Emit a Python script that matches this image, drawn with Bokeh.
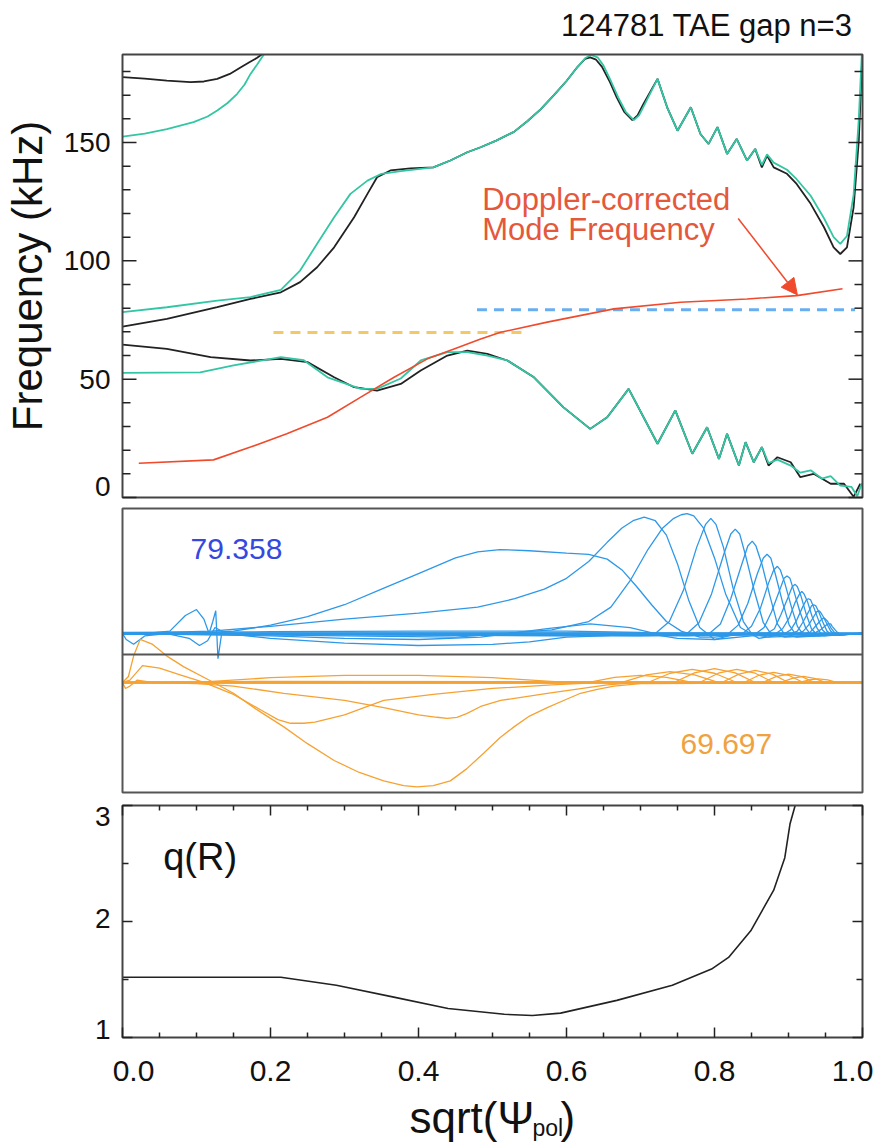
from bokeh.plotting import figure
from bokeh.layouts import column
from bokeh.models import Range1d, Label, Arrow, NormalHead
from bokeh.embed import file_html
from bokeh.resources import INLINE

FONT = "Liberation Sans"

# ---------------- Frequency continuum (kHz) vs sqrt(psi_pol) ----------------
black_hi_s = [0.0, 0.03, 0.06, 0.092, 0.11, 0.128, 0.145, 0.16, 0.172, 0.182, 0.188]
black_hi_f = [177.6, 177.0, 176.2, 175.5, 175.8, 176.9, 179.0, 181.8, 184.0, 185.8, 187.2]

teal_hi_s = [0.0, 0.03, 0.06, 0.096, 0.115, 0.128, 0.142, 0.155, 0.165, 0.173, 0.182, 0.191]
teal_hi_f = [152.5, 153.8, 155.7, 158.6, 161.0, 163.5, 166.7, 170.6, 174.5, 179.0, 183.0, 187.2]

black_up_s = [0.0, 0.06, 0.128, 0.173, 0.214, 0.24, 0.263, 0.286, 0.313, 0.331, 0.344, 0.362,
              0.389, 0.42, 0.443, 0.466, 0.484, 0.505, 0.529, 0.547, 0.565, 0.583, 0.600, 0.615,
              0.625, 0.632, 0.640, 0.648, 0.658, 0.668, 0.678, 0.689, 0.696, 0.704, 0.723, 0.736,
              0.75, 0.768, 0.781, 0.792, 0.804, 0.817, 0.83, 0.844, 0.855, 0.864, 0.871, 0.88,
              0.898, 0.911, 0.93, 0.948, 0.961, 0.97, 0.979, 0.988, 0.995, 0.999]
black_up_f = [72.2, 75.5, 80.4, 83.9, 86.7, 91.0, 97.3, 105.7, 118.4, 128.3, 135.3, 138.2,
              139.1, 139.5, 142.4, 145.9, 148.0, 150.8, 154.5, 159.0, 164.0, 170.0, 176.0, 182.0,
              185.3, 186.0, 185.0, 182.0, 176.0, 169.0, 163.0, 159.5, 161.5, 166.3, 176.9, 164.9,
              155.0, 164.9, 153.6, 149.4, 156.5, 145.2, 151.5, 142.4, 147.3, 139.5, 144.5, 139.5,
              136.8, 132.5, 124.1, 114.2, 105.7, 102.9, 105.7, 122.6, 150.8, 181.8]

teal_up_s = [0.0, 0.06, 0.128, 0.173, 0.214, 0.24, 0.263, 0.286, 0.308, 0.331, 0.35, 0.376,
             0.42, 0.443, 0.466, 0.484, 0.505, 0.529, 0.547, 0.565, 0.583, 0.600, 0.615, 0.625,
             0.633, 0.642, 0.650, 0.660, 0.670, 0.680, 0.691, 0.698, 0.706, 0.723, 0.736, 0.75,
             0.768, 0.781, 0.792, 0.804, 0.817, 0.83, 0.844, 0.855, 0.864, 0.871, 0.88, 0.898,
             0.911, 0.93, 0.948, 0.961, 0.97, 0.979, 0.988, 0.995, 0.999]
teal_up_f = [78.3, 80.4, 83.2, 84.7, 87.7, 95.9, 107.2, 118.4, 128.3, 133.9, 136.8, 137.9,
             139.5, 142.4, 145.9, 148.0, 150.8, 154.5, 159.0, 164.0, 170.0, 176.0, 182.0, 185.6,
             187.0, 186.0, 182.5, 176.0, 169.0, 163.0, 159.5, 161.5, 166.3, 176.9, 164.9, 155.0,
             164.9, 153.6, 149.4, 156.5, 145.2, 151.5, 142.4, 147.3, 140.5, 145.0, 141.5, 138.5,
             134.5, 127.5, 118.0, 110.0, 107.2, 110.5, 128.0, 160.0, 187.0]

black_lo_s = [0.0, 0.06, 0.119, 0.173, 0.214, 0.25, 0.286, 0.313, 0.344, 0.376, 0.403, 0.439,
              0.466, 0.493, 0.52, 0.556, 0.596, 0.632, 0.655, 0.684, 0.723, 0.747, 0.77, 0.79,
              0.806, 0.817, 0.833, 0.842, 0.853, 0.864, 0.873, 0.885, 0.903, 0.916, 0.934, 0.957,
              0.975, 0.988, 0.997]
black_lo_f = [64.6, 62.8, 59.3, 57.9, 58.6, 57.2, 50.8, 46.6, 45.2, 48.0, 53.7, 60.0,
              62.1, 60.7, 57.9, 50.8, 38.1, 29.0, 33.9, 45.9, 22.7, 36.8, 18.5, 29.7,
              16.3, 26.9, 13.5, 23.4, 14.9, 21.3, 13.5, 17.0, 14.9, 8.6, 10.0, 5.8,
              5.8, 0.3, 5.8]

teal_lo_s = [0.0, 0.105, 0.15, 0.214, 0.245, 0.277, 0.322, 0.344, 0.376, 0.403, 0.439, 0.466,
             0.493, 0.52, 0.556, 0.596, 0.632, 0.655, 0.684, 0.723, 0.747, 0.77, 0.79, 0.806,
             0.817, 0.833, 0.842, 0.853, 0.864, 0.873, 0.885, 0.903, 0.916, 0.93, 0.945, 0.957,
             0.97, 0.985, 0.993, 0.999]
teal_lo_f = [52.7, 52.9, 55.8, 59.3, 58.0, 50.8, 45.9, 45.9, 50.3, 57.9, 61.4, 61.4,
             60.0, 57.9, 50.8, 38.1, 29.0, 33.9, 45.9, 22.7, 36.8, 18.5, 29.7, 16.3,
             26.9, 13.5, 23.4, 14.9, 21.3, 14.5, 16.0, 13.5, 10.5, 11.5, 8.0, 9.0,
             5.0, 4.5, 0.5, 6.0]

doppler_s = [0.022, 0.123, 0.173, 0.222, 0.277, 0.322, 0.367, 0.412, 0.448, 0.484, 0.511,
             0.574, 0.664, 0.754, 0.844, 0.911, 0.973]
doppler_f = [14.5, 15.9, 21.3, 26.9, 33.9, 42.4, 50.8, 58.6, 62.8, 67.0, 69.8,
             74.1, 79.7, 82.5, 83.9, 85.3, 88.2]

# eigenmode frequencies (kHz) and their radial extent
tae_hi_freq = 79.358
tae_hi_extent = [0.479, 0.99]
tae_lo_freq = 69.697
tae_lo_extent = [0.204, 0.545]

# ---------------- Mode structure: poloidal harmonics ----------------
blue_modes = [
    ([0.0, 0.10, 0.15, 0.20, 0.25, 0.30, 0.35, 0.40, 0.45, 0.48, 0.51, 0.55, 0.60, 0.63, 0.655,
      0.675, 0.695, 0.715, 0.735, 0.755, 0.78, 0.80, 0.85, 1.0],
     [0.0, 0.0, 0.02, 0.07, 0.14, 0.24, 0.37, 0.50, 0.63, 0.68, 0.70, 0.69, 0.67, 0.66, 0.62,
      0.53, 0.39, 0.24, 0.10, 0.02, -0.03, -0.03, 0.0, 0.0]),
    ([0.0, 0.12, 0.2, 0.3, 0.4, 0.48, 0.53, 0.57, 0.60, 0.63, 0.655, 0.675, 0.69, 0.705, 0.72,
      0.735, 0.75, 0.765, 0.78, 0.80, 0.83, 1.0],
     [0.0, 0.02, 0.06, 0.12, 0.17, 0.22, 0.29, 0.37, 0.46, 0.60, 0.76, 0.88, 0.94, 0.97, 0.94,
      0.82, 0.58, 0.28, 0.05, -0.05, 0.0, 0.0]),
    ([0.0, 0.45, 0.58, 0.63, 0.66, 0.686, 0.71, 0.73, 0.745, 0.755, 0.763, 0.772, 0.785, 0.80,
      0.815, 0.835, 0.86, 0.9, 1.0],
     [0.0, -0.03, 0.03, 0.10, 0.22, 0.44, 0.70, 0.88, 0.96, 0.99, 1.0, 0.98, 0.88, 0.63,
      0.33, 0.05, -0.04, 0.0, 0.0]),
    ([0.0, 0.6, 0.720, 0.739, 0.758, 0.776, 0.788, 0.795, 0.802, 0.812, 0.825, 0.839, 0.850, 0.872, 1.0],
     [0.0, 0.0, 0.0, 0.10, 0.36, 0.72, 0.91, 0.96, 0.91, 0.72, 0.38, 0.10, 0.0, -0.03, 0.0]),
    ([0.0, 0.6, 0.763, 0.779, 0.796, 0.812, 0.822, 0.828, 0.834, 0.842, 0.854, 0.866, 0.876, 0.895, 1.0],
     [0.0, -0.02, 0.0, 0.09, 0.33, 0.65, 0.83, 0.87, 0.83, 0.65, 0.35, 0.09, 0.0, -0.03, 0.0]),
    ([0.0, 0.7, 0.793, 0.808, 0.822, 0.837, 0.845, 0.851, 0.856, 0.864, 0.875, 0.885, 0.894, 0.911, 1.0],
     [0.0, 0.0, 0.0, 0.08, 0.29, 0.58, 0.73, 0.77, 0.73, 0.58, 0.31, 0.08, 0.0, -0.03, 0.0]),
    ([0.0, 0.7, 0.819, 0.832, 0.845, 0.858, 0.866, 0.871, 0.876, 0.882, 0.892, 0.901, 0.909, 0.924, 1.0],
     [0.0, -0.02, 0.0, 0.07, 0.25, 0.50, 0.63, 0.66, 0.63, 0.50, 0.26, 0.07, 0.0, -0.02, 0.0]),
    ([0.0, 0.75, 0.838, 0.850, 0.862, 0.873, 0.880, 0.885, 0.889, 0.895, 0.904, 0.912, 0.919, 0.933, 1.0],
     [0.0, 0.0, 0.0, 0.06, 0.21, 0.42, 0.53, 0.56, 0.53, 0.42, 0.22, 0.06, 0.0, -0.02, 0.0]),
    ([0.0, 0.75, 0.856, 0.867, 0.877, 0.888, 0.894, 0.898, 0.902, 0.907, 0.915, 0.923, 0.929, 0.941, 1.0],
     [0.0, -0.02, 0.0, 0.05, 0.18, 0.36, 0.46, 0.48, 0.46, 0.36, 0.19, 0.05, 0.0, -0.02, 0.0]),
    ([0.0, 0.8, 0.871, 0.881, 0.890, 0.900, 0.905, 0.909, 0.912, 0.917, 0.924, 0.931, 0.937, 0.948, 1.0],
     [0.0, 0.0, 0.0, 0.04, 0.16, 0.31, 0.39, 0.41, 0.39, 0.31, 0.16, 0.04, 0.0, -0.02, 0.0]),
    ([0.0, 0.8, 0.883, 0.892, 0.901, 0.909, 0.915, 0.918, 0.921, 0.926, 0.932, 0.939, 0.944, 0.954, 1.0],
     [0.0, -0.015, 0.0, 0.04, 0.13, 0.26, 0.33, 0.35, 0.33, 0.26, 0.14, 0.04, 0.0, -0.015, 0.0]),
    ([0.0, 0.85, 0.895, 0.903, 0.911, 0.919, 0.924, 0.927, 0.930, 0.934, 0.940, 0.946, 0.951, 0.961, 1.0],
     [0.0, 0.0, 0.0, 0.03, 0.11, 0.22, 0.28, 0.29, 0.28, 0.22, 0.12, 0.03, 0.0, -0.015, 0.0]),
    ([0.0, 0.85, 0.904, 0.912, 0.919, 0.927, 0.931, 0.934, 0.937, 0.941, 0.946, 0.952, 0.956, 0.965, 1.0],
     [0.0, -0.01, 0.0, 0.02, 0.09, 0.18, 0.23, 0.24, 0.23, 0.18, 0.10, 0.02, 0.0, -0.01, 0.0]),
    ([0.0, 0.88, 0.913, 0.920, 0.927, 0.934, 0.938, 0.941, 0.943, 0.947, 0.952, 0.957, 0.961, 0.969, 1.0],
     [0.0, 0.0, 0.0, 0.02, 0.07, 0.14, 0.18, 0.19, 0.18, 0.14, 0.08, 0.02, 0.0, -0.01, 0.0]),
    ([0.0, 0.88, 0.922, 0.929, 0.935, 0.942, 0.945, 0.948, 0.950, 0.953, 0.957, 0.962, 0.965, 0.972, 1.0],
     [0.0, -0.01, 0.0, 0.01, 0.05, 0.10, 0.12, 0.13, 0.12, 0.10, 0.05, 0.01, 0.0, -0.01, 0.0]),
    ([0.0, 0.9, 0.931, 0.937, 0.943, 0.949, 0.953, 0.955, 0.957, 0.959, 0.963, 0.966, 0.969, 0.975, 1.0],
     [0.0, 0.0, 0.0, 0.01, 0.03, 0.06, 0.08, 0.08, 0.08, 0.06, 0.03, 0.01, 0.0, 0.0, 0.0]),
    # core wiggles and weak side-band harmonics
    ([0.0, 0.03, 0.064, 0.085, 0.10, 0.11, 0.117, 0.122, 0.126, 0.129, 0.134, 0.16, 1.0],
     [0.0, 0.0, 0.02, 0.15, 0.20, 0.12, 0.0, 0.10, 0.19, -0.21, 0.0, 0.0, 0.0]),
    ([0.0, 0.005, 0.015, 0.03, 0.06, 0.09, 0.104, 0.115, 0.125, 0.14, 0.2, 0.3, 0.4, 0.5, 0.55,
      0.6, 0.65, 0.7, 1.0],
     [0.0, -0.05, -0.09, -0.02, 0.0, -0.04, -0.10, -0.06, 0.05, 0.0, -0.04, -0.08, -0.10, -0.09,
      -0.07, -0.03, -0.02, 0.0, 0.0]),
    ([0.0, 0.2, 0.3, 0.4, 0.484, 0.574, 0.632, 0.686, 0.72, 0.76, 1.0],
     [0.0, -0.02, -0.04, -0.05, -0.03, 0.04, 0.08, 0.05, 0.0, -0.02, 0.0]),
    ([0.0, 0.2, 0.4, 0.6, 0.7, 0.75, 0.8, 0.85, 1.0],
     [0.01, 0.015, 0.02, 0.02, 0.01, -0.04, -0.05, -0.02, 0.0]),
]

orange_modes = [
    ([0.0, 0.008, 0.015, 0.024, 0.04, 0.06, 0.083, 0.12, 0.15, 0.18, 0.218, 0.25, 0.286, 0.32,
      0.353, 0.38, 0.398, 0.42, 0.443, 0.465, 0.488, 0.51, 0.529, 0.55, 0.574, 0.6, 0.619, 0.64,
      0.664, 0.7, 1.0],
     [0.0, 0.05, 0.22, 0.36, 0.32, 0.22, 0.13, 0.01, -0.09, -0.22, -0.37, -0.51, -0.65, -0.75,
      -0.82, -0.86, -0.87, -0.86, -0.82, -0.72, -0.59, -0.46, -0.37, -0.28, -0.21, -0.14, -0.09,
      -0.06, -0.03, -0.01, 0.0]),
    ([0.0, 0.01, 0.027, 0.05, 0.08, 0.11, 0.15, 0.19, 0.21, 0.227, 0.245, 0.26, 0.3, 0.353, 0.42,
      0.5, 0.58, 0.65, 1.0],
     [0.0, 0.02, 0.14, 0.12, 0.06, 0.0, -0.10, -0.24, -0.31, -0.34, -0.34, -0.33, -0.27, -0.15,
      -0.10, -0.05, -0.02, 0.0, 0.0]),
    ([0.0, 0.05, 0.1, 0.15, 0.218, 0.3, 0.353, 0.4, 0.425, 0.439, 0.452, 0.465, 0.484, 0.511,
      0.574, 0.655, 0.7, 1.0],
     [0.0, 0.0, -0.01, -0.03, -0.09, -0.15, -0.21, -0.27, -0.29, -0.30, -0.29, -0.26, -0.20,
      -0.15, -0.09, -0.02, 0.0, 0.0]),
    ([0.0, 0.1, 0.2, 0.3, 0.4, 0.5, 0.6, 1.0],
     [0.0, 0.0, 0.04, 0.06, 0.06, 0.04, 0.0, 0.0]),
    ([0.0, 0.004, 0.01, 0.02, 0.04, 0.2, 1.0],
     [0.0, -0.05, -0.03, 0.02, 0.0, 0.01, 0.0]),
    ([0.0, 0.63, 0.665, 0.70, 0.735, 0.77, 1.0], [0.0, 0.0, 0.042, 0.06, 0.042, 0.0, 0.0]),
    ([0.0, 0.675, 0.708, 0.74, 0.773, 0.805, 1.0], [0.0, 0.0, 0.063, 0.09, 0.063, 0.0, 0.0]),
    ([0.0, 0.71, 0.74, 0.77, 0.80, 0.83, 1.0], [0.0, 0.0, 0.077, 0.11, 0.077, 0.0, 0.0]),
    ([0.0, 0.745, 0.773, 0.80, 0.828, 0.855, 1.0], [0.0, 0.0, 0.08, 0.115, 0.08, 0.0, 0.0]),
    ([0.0, 0.78, 0.805, 0.83, 0.855, 0.88, 1.0], [0.0, 0.0, 0.077, 0.11, 0.077, 0.0, 0.0]),
    ([0.0, 0.81, 0.833, 0.855, 0.878, 0.90, 1.0], [0.0, 0.0, 0.07, 0.10, 0.07, 0.0, 0.0]),
    ([0.0, 0.84, 0.86, 0.88, 0.90, 0.92, 1.0], [0.0, 0.0, 0.06, 0.085, 0.06, 0.0, 0.0]),
    ([0.0, 0.865, 0.883, 0.90, 0.918, 0.935, 1.0], [0.0, 0.0, 0.049, 0.07, 0.049, 0.0, 0.0]),
    ([0.0, 0.89, 0.905, 0.92, 0.935, 0.95, 1.0], [0.0, 0.0, 0.035, 0.05, 0.035, 0.0, 0.0]),
    ([0.0, 0.915, 0.928, 0.94, 0.953, 0.965, 1.0], [0.0, 0.0, 0.021, 0.03, 0.021, 0.0, 0.0]),
]

# ---------------- Safety factor profile ----------------
q_s = [0.0, 0.1, 0.214, 0.289, 0.365, 0.44, 0.516, 0.554, 0.592, 0.668, 0.743, 0.796,
       0.819, 0.849, 0.88, 0.895, 0.902, 0.909]
q_val = [1.52, 1.52, 1.52, 1.45, 1.35, 1.25, 1.20, 1.19, 1.21, 1.32, 1.45, 1.59,
         1.69, 1.92, 2.27, 2.55, 2.84, 3.0]

freq_ticks = [0, 50, 100, 150]
freq_minor = [10, 20, 30, 40, 60, 70, 80, 90, 110, 120, 130, 140, 160, 170, 180]
q_ticks = [1, 2, 3]
q_minor = [1.5, 2.5]
s_ticks = [0.0, 0.2, 0.4, 0.6, 0.8, 1.0]
s_minor = [0.05, 0.1, 0.15, 0.25, 0.3, 0.35, 0.45, 0.5, 0.55, 0.65, 0.7, 0.75, 0.85, 0.9, 0.95]

BLACK = "#222222"
TEAL = "#33c6a4"
RED = "#f04a2c"
RED_TXT = "#e4583c"
BLUE = "#2e98e8"
ORANGE = "#f6a232"
TXT = "#111111"
BLUE_OFFSET = 0.0
ORANGE_OFFSET = -0.408
DIVIDER = -0.175

W = 876
BOX_L, BOX_R = 122, 862          # box edges in canvas px, shared by all panels
PX_X = 1.0 / (BOX_R - BOX_L)     # data units of s per px


class Panel:
    """A figure whose whole canvas is the plotting frame, with a drawn box
    spanning rows [top, bottom] for values [lo, hi] and s in [0, 1]."""

    def __init__(self, height, top, bottom, lo, hi):
        self.h, self.lo, self.hi = height, lo, hi
        self.k = (hi - lo) / (bottom - top)
        xr = Range1d(-BOX_L * PX_X, 1 + (W - BOX_R) * PX_X)
        yr = Range1d(lo - (height - bottom) * self.k, hi + top * self.k)
        p = figure(width=W, height=height, x_range=xr, y_range=yr,
                   output_backend="svg", toolbar_location=None,
                   x_axis_location=None, y_axis_location=None, min_border=0)
        p.grid.visible = False
        p.outline_line_color = None
        p.background_fill_color = "white"
        p.border_fill_color = "white"
        self.p = p

    def box(self, color="#444444"):
        self.p.quad(left=0, right=1, bottom=self.lo, top=self.hi, fill_color=None,
                    line_color=color, line_width=2)

    def yticks(self, values, length_px):
        d = length_px * PX_X
        n = len(values)
        self.p.segment(x0=[0.0] * n, y0=values, x1=[d] * n, y1=values,
                       line_color=BLACK, line_width=1.5)
        self.p.segment(x0=[1.0] * n, y0=values, x1=[1.0 - d] * n, y1=values,
                       line_color=BLACK, line_width=1.5)

    def xticks(self, values, length_px):
        d = length_px * self.k
        n = len(values)
        self.p.segment(x0=values, y0=[self.lo] * n, x1=values, y1=[self.lo + d] * n,
                       line_color=BLACK, line_width=1.5)
        self.p.segment(x0=values, y0=[self.hi] * n, x1=values, y1=[self.hi - d] * n,
                       line_color=BLACK, line_width=1.5)

    def text(self, **kw):
        # texts are anchored at their vertical middle
        kw.setdefault("text_font", FONT)
        kw.setdefault("text_color", TXT)
        kw.setdefault("text_baseline", "middle")
        self.p.add_layout(Label(**kw))


# ---- top panel: frequency gap ----
top = Panel(502, 54, 497, 0.0, 187.2)
p1 = top.p
p1.line(black_hi_s, black_hi_f, line_color=BLACK, line_width=1.8)
p1.line(teal_hi_s, teal_hi_f, line_color=TEAL, line_width=1.8)
p1.line(black_up_s, black_up_f, line_color=BLACK, line_width=1.8)
p1.line(teal_up_s, teal_up_f, line_color=TEAL, line_width=1.8)
p1.line(black_lo_s, black_lo_f, line_color=BLACK, line_width=1.8)
p1.line(teal_lo_s, teal_lo_f, line_color=TEAL, line_width=1.8)
p1.line(tae_lo_extent, [tae_lo_freq, tae_lo_freq], line_color="#f3c866",
        line_width=3, line_dash="10 7")
p1.line(tae_hi_extent, [tae_hi_freq, tae_hi_freq], line_color="#6aaef2",
        line_width=3, line_dash="10 7")
p1.line(doppler_s, doppler_f, line_color=RED, line_width=1.6)
top.box()
top.yticks(freq_ticks, 14)
top.yticks(freq_minor, 8)
for t in freq_ticks:
    if t == 0:
        # bottom label sits just above the frame corner
        top.text(x=110, x_units="screen", y=16, y_units="screen", text=str(t),
                 text_align="right", text_font_size="28px")
    else:
        top.text(x=110, x_units="screen", y=t, text=str(t), text_align="right",
                 text_font_size="28px")
top.text(x=27, x_units="screen", y=93.6, text="Frequency (kHz)", angle=1.5708,
         text_align="center", text_font_size="42px")
top.text(x=0.486, y=126.1, text="Doppler-corrected", text_color=RED_TXT, text_font_size="31px")
top.text(x=0.486, y=113.4, text="Mode Frequency", text_color=RED_TXT, text_font_size="31px")
p1.add_layout(Arrow(end=NormalHead(size=16, fill_color=RED, line_color=RED),
                    x_start=0.832, y_start=117.9, x_end=0.912, y_end=85.6,
                    line_color=RED, line_width=1.5))
top.text(x=852, y=477, x_units="screen", y_units="screen", text="124781 TAE gap n=3",
         text_align="right", text_font_size="31px")

# ---- middle panel: eigenfunctions ----
mid = Panel(296, 6, 290, -1.325, 1.042)
p2 = mid.p
p2.multi_line([m[0] for m in blue_modes],
              [[v + BLUE_OFFSET for v in m[1]] for m in blue_modes],
              line_color=BLUE, line_width=1.3)
p2.multi_line([m[0] for m in orange_modes],
              [[v + ORANGE_OFFSET for v in m[1]] for m in orange_modes],
              line_color=ORANGE, line_width=1.3)
p2.segment(x0=[0.0], y0=[DIVIDER], x1=[1.0], y1=[DIVIDER], line_color="#555555", line_width=2)
mid.box("#555555")
mid.text(x=0.092, y=0.706, text=f"{tae_hi_freq:.3f}", text_color="#3548e0", text_font_size="30px")
mid.text(x=0.754, y=-0.919, text=f"{tae_lo_freq:.3f}", text_color="#f0a240", text_font_size="30px")

# ---- bottom panel: q profile ----
bot = Panel(346, 7, 239, 1.0, 3.0)
p3 = bot.p
p3.line(q_s, q_val, line_color=BLACK, line_width=1.6)
bot.box()
bot.xticks(s_ticks, 10)
bot.xticks(s_minor, 5)
bot.yticks(q_ticks, 10)
bot.yticks(q_minor, 6)
for t in s_ticks:
    # end labels are nudged inwards so they stay on the page
    shift = 11 if t == 0.0 else (-10 if t == 1.0 else 0)
    bot.text(x=t, y=74, y_units="screen", x_offset=shift, text=f"{t:.1f}",
             text_align="center", text_font_size="30px")
for t, ys in zip(q_ticks, [115, 226, 328]):
    bot.text(x=110, x_units="screen", y=ys, y_units="screen", text=str(t),
             text_align="right", text_font_size="28px")
bot.text(x=0.055, y=2.56, text="q(R)", text_font_size="38px")

# x-axis title with subscript
bot.text(x=409, y=27, x_units="screen", y_units="screen", text="sqrt(\u03a8",
         text_font_size="44px")
bot.text(x=532, y=17, x_units="screen", y_units="screen", text="pol", text_font_size="23px")
bot.text(x=560, y=27, x_units="screen", y_units="screen", text=")", text_font_size="44px")

layout = column(p1, p2, p3)
open("out.html", "w").write(file_html(layout, INLINE))
